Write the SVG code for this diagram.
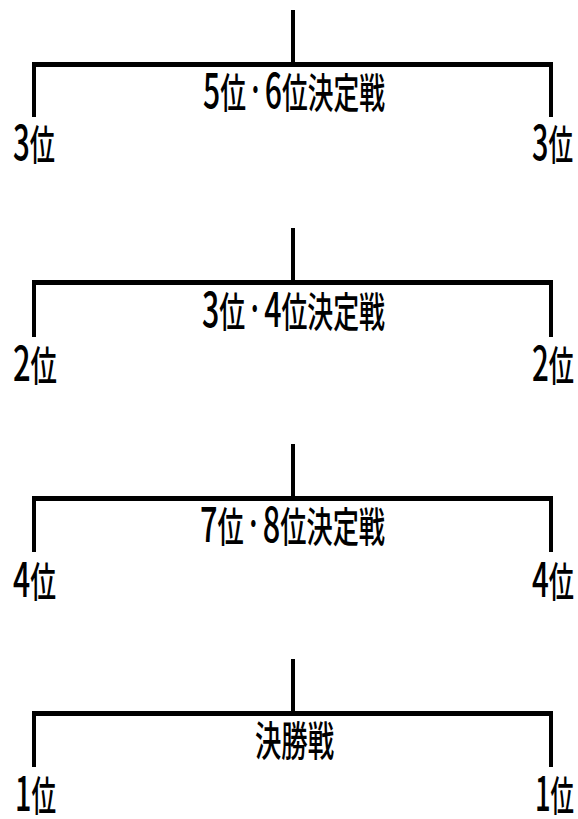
<svg xmlns="http://www.w3.org/2000/svg" width="578" height="819" viewBox="0 0 578 819">
  <style>
    .bg { fill: #ffffff; }
    .bar { stroke: #000000; stroke-width: 5; fill: none; }
    .vline { stroke: #000000; stroke-width: 4; fill: none; }
    .t { font-family: "Noto Sans CJK JP", "Noto Sans CJK SC", sans-serif; font-size: 41px; font-weight: 500; fill: #000000; }
    .d { font-size: 48px; }
    .dot { font-size: 30px; }
  </style>
  <rect class="bg" x="0" y="0" width="578" height="819"/>

  <g id="connectors">
    <!-- bracket 1 -->
    <line class="vline" x1="293" y1="10" x2="293" y2="64"/>
    <line class="bar" x1="32" y1="64.5" x2="553" y2="64.5"/>
    <line class="vline" x1="34" y1="62" x2="34" y2="117"/>
    <line class="vline" x1="551" y1="62" x2="551" y2="117"/>
    <!-- bracket 2 -->
    <line class="vline" x1="293" y1="228" x2="293" y2="282"/>
    <line class="bar" x1="32" y1="282.5" x2="553" y2="282.5"/>
    <line class="vline" x1="34" y1="280" x2="34" y2="337"/>
    <line class="vline" x1="551" y1="280" x2="551" y2="337"/>
    <!-- bracket 3 -->
    <line class="vline" x1="293" y1="444" x2="293" y2="498"/>
    <line class="bar" x1="32" y1="498.5" x2="553" y2="498.5"/>
    <line class="vline" x1="34" y1="496" x2="34" y2="552"/>
    <line class="vline" x1="551" y1="496" x2="551" y2="552"/>
    <!-- bracket 4 -->
    <line class="vline" x1="293" y1="659" x2="293" y2="713"/>
    <line class="bar" x1="32" y1="713.5" x2="553" y2="713.5"/>
    <line class="vline" x1="34" y1="711" x2="34" y2="767"/>
    <line class="vline" x1="551" y1="711" x2="551" y2="767"/>
  </g>

  <g id="match-5-6">
    <text class="t" x="203" y="108" textLength="182" lengthAdjust="spacingAndGlyphs"><tspan class="d">5</tspan>位<tspan class="dot" dy="-7">・</tspan><tspan class="d" dy="7">6</tspan>位決定戦</text>
  </g>
  <g id="left-3">
    <text class="t" x="13" y="160" textLength="42" lengthAdjust="spacingAndGlyphs"><tspan class="d">3</tspan>位</text>
  </g>
  <g id="right-3">
    <text class="t" x="532" y="160" textLength="41" lengthAdjust="spacingAndGlyphs"><tspan class="d">3</tspan>位</text>
  </g>

  <g id="match-3-4">
    <text class="t" x="202" y="327" textLength="183" lengthAdjust="spacingAndGlyphs"><tspan class="d">3</tspan>位<tspan class="dot" dy="-7">・</tspan><tspan class="d" dy="7">4</tspan>位決定戦</text>
  </g>
  <g id="left-2">
    <text class="t" x="13" y="381" textLength="44" lengthAdjust="spacingAndGlyphs"><tspan class="d">2</tspan>位</text>
  </g>
  <g id="right-2">
    <text class="t" x="532" y="381" textLength="42" lengthAdjust="spacingAndGlyphs"><tspan class="d">2</tspan>位</text>
  </g>

  <g id="match-7-8">
    <text class="t" x="200" y="542" textLength="185" lengthAdjust="spacingAndGlyphs"><tspan class="d">7</tspan>位<tspan class="dot" dy="-7">・</tspan><tspan class="d" dy="7">8</tspan>位決定戦</text>
  </g>
  <g id="left-4">
    <text class="t" x="13" y="597" textLength="43" lengthAdjust="spacingAndGlyphs"><tspan class="d">4</tspan>位</text>
  </g>
  <g id="right-4">
    <text class="t" x="532" y="597" textLength="42" lengthAdjust="spacingAndGlyphs"><tspan class="d">4</tspan>位</text>
  </g>

  <g id="final">
    <text class="t" x="255" y="756" textLength="79" lengthAdjust="spacingAndGlyphs">決勝戦</text>
  </g>
  <g id="left-1">
    <text class="t" x="15" y="811" textLength="41" lengthAdjust="spacingAndGlyphs"><tspan class="d">1</tspan>位</text>
  </g>
  <g id="right-1">
    <text class="t" x="535" y="811" textLength="39" lengthAdjust="spacingAndGlyphs"><tspan class="d">1</tspan>位</text>
  </g>
</svg>
